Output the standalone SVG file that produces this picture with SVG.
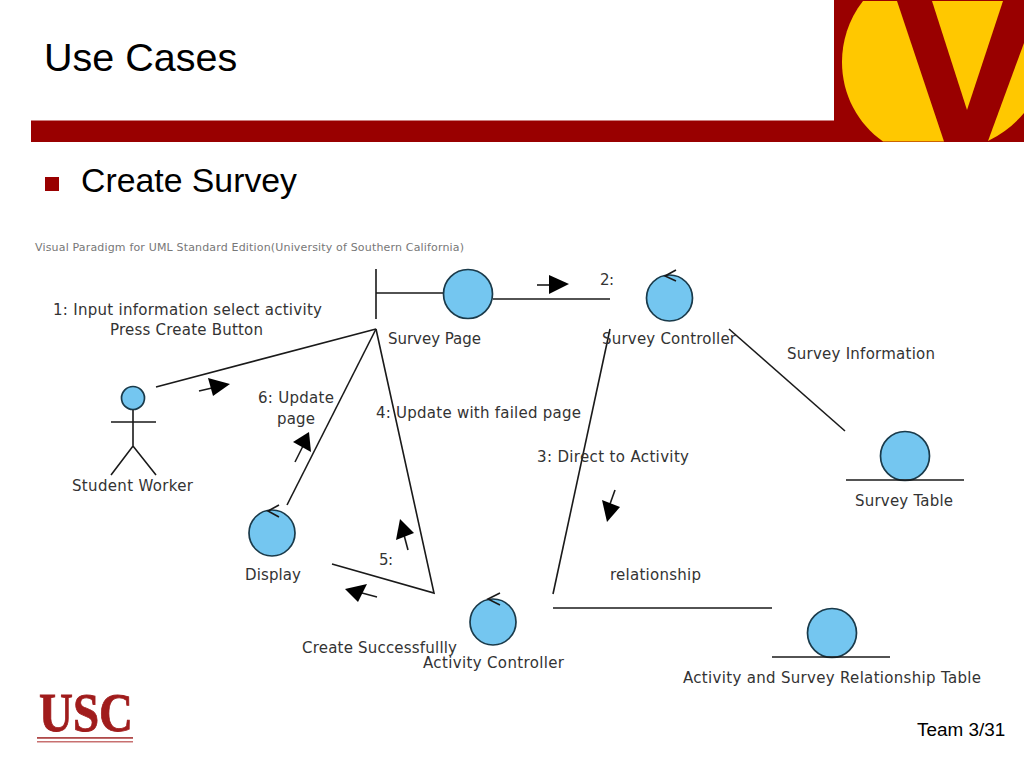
<svg xmlns="http://www.w3.org/2000/svg" width="1024" height="768" viewBox="0 0 1024 768">
<style>
.t{font-family:"Liberation Sans",Arial,sans-serif;fill:#000}
.d{font-family:"DejaVu Sans",Verdana,sans-serif;font-size:15px;fill:#333}
.l{stroke:#1a1a1a;stroke-width:1.6;fill:none}
.c{fill:#74c6f0;stroke:#1a3a4a;stroke-width:1.7}
.h{fill:#000;stroke:none}
.y{fill:#ffc800}
</style>
<rect width="1024" height="768" fill="#fff"/>
<g id="banner">
<rect x="31" y="120.500" width="993" height="21.500" fill="#990000"/>
<rect x="834" y="0" width="190" height="142" fill="#990000"/>
<path class="y" d="M863,1 C848,20 842,42 842,62 C842,95 858,124 883,141.500 L944,141.500 L897,1 Z"/>
<path class="y" d="M932,1 L1003,1 L967,110 Z"/>
<path class="y" d="M1024,43 L988,141 Q1010,130 1024,113 Z"/>
</g>
<text class="t" x="44" y="71" font-size="39.500">Use Cases</text>
<rect x="45" y="177" width="14" height="14" fill="#990000"/>
<text class="t" x="81" y="192" font-size="33.800">Create Survey</text>
<g id="usc-logo">
<text x="39" y="731" font-family="Liberation Serif,serif" font-weight="700" font-size="54" fill="#a01c1c" stroke="#a01c1c" stroke-width="0.800" textLength="94" lengthAdjust="spacingAndGlyphs">USC</text>
<rect x="37" y="737" width="96" height="1.800" fill="#b04a4a"/>
<rect x="37" y="741" width="96" height="1.500" fill="#c87070"/>
</g>
<text class="t" x="917" y="736" font-size="18.900">Team 3/31</text>
<text x="35" y="251" font-family="DejaVu Sans,sans-serif" font-size="11px" fill="#777" textLength="429">Visual Paradigm for UML Standard Edition(University of Southern California)</text>
<g id="connectors">
<path class="l" d="M156,387 L376,329"/>
<path class="l" d="M376,329 L287,505"/>
<path class="l" d="M376,329 L434,593 L332,564"/>
<path class="l" d="M493,299 L610,299"/>
<path class="l" d="M610,329 L553,594"/>
<path class="l" d="M729,329 L845,431"/>
<path class="l" d="M553,608 L772,608"/>
<path class="l" d="M199,391 L212,388"/><path class="h" d="M208,378 L230,384 L213,396 Z"/>
<path class="l" d="M295,462 L303,446"/><path class="h" d="M293,442 L309,432 L311,452 Z"/>
<path class="l" d="M537,285 L550,285"/><path class="h" d="M549,275 L569,284 L549,294 Z"/>
<path class="l" d="M615,490 L610,504"/><path class="h" d="M602,500 L620,507 L607,522 Z"/>
<path class="l" d="M408,550 L404,535"/><path class="h" d="M396,540 L400,519 L414,533 Z"/>
<path class="l" d="M377,597 L362,593"/><path class="h" d="M358,602 L345,589 L367,584 Z"/>
</g>
<g id="connector-labels">
<text class="d" x="53" y="315" textLength="269">1: Input information select activity</text>
<text class="d" x="110" y="335" textLength="153">Press Create Button</text>
<text class="d" x="258" y="403" textLength="76">6: Update</text>
<text class="d" x="277" y="424" textLength="38">page</text>
<text class="d" x="600" y="285" textLength="14">2:</text>
<text class="d" x="376" y="418" textLength="205">4: Update with failed page</text>
<text class="d" x="537" y="462" textLength="152">3: Direct to Activity</text>
<text class="d" x="787" y="359" textLength="148">Survey Information</text>
<text class="d" x="379" y="565" textLength="14">5:</text>
<text class="d" x="610" y="580" textLength="91">relationship</text>
<text class="d" x="302" y="653" textLength="155">Create Successfullly</text>
</g>
<g id="student-worker">
<circle class="c" cx="133" cy="398" r="11.500"/>
<path class="l" d="M133,410 V446 M111,422 H156 M111,475 L133,446 L156,475"/>
<text class="d" x="72" y="491" textLength="121">Student Worker</text>
</g>
<g id="survey-page">
<path class="l" d="M376,269 V319 M376,293 H443"/>
<circle class="c" cx="468" cy="294" r="24.500"/>
<text class="d" x="388" y="344" textLength="93">Survey Page</text>
</g>
<g id="survey-controller">
<circle class="c" cx="669.500" cy="298" r="23"/>
<path class="l" d="M676,270 L665,276 L676,281"/>
<text class="d" x="602" y="344" textLength="134">Survey Controller</text>
</g>
<g id="survey-table">
<circle class="c" cx="905" cy="456" r="24.500"/>
<path class="l" d="M846,480 H964"/>
<text class="d" x="855" y="506" textLength="98">Survey Table</text>
</g>
<g id="display">
<circle class="c" cx="272" cy="533" r="23"/>
<path class="l" d="M279,505 L268,511 L279,517"/>
<text class="d" x="245" y="580" textLength="56">Display</text>
</g>
<g id="activity-controller">
<circle class="c" cx="493" cy="622" r="23"/>
<path class="l" d="M500,593 L488,599 L500,605"/>
<text class="d" x="423" y="668" textLength="141">Activity Controller</text>
</g>
<g id="relationship-table">
<circle class="c" cx="832" cy="633" r="24.500"/>
<path class="l" d="M772,657 H890"/>
<text class="d" x="683" y="683" textLength="298">Activity and Survey Relationship Table</text>
</g>
</svg>
